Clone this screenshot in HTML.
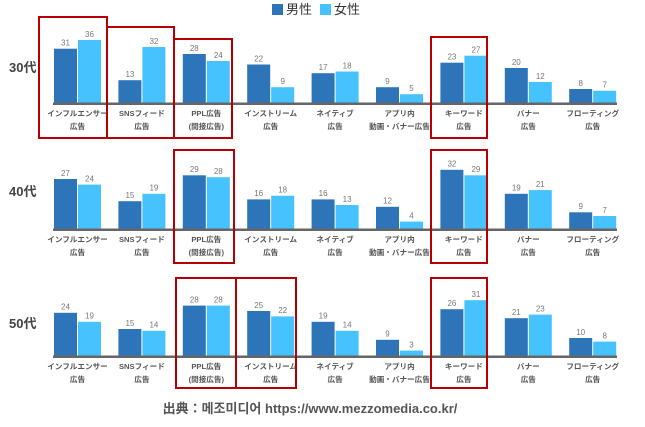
<!DOCTYPE html><html><head><meta charset="utf-8"><style>body{margin:0;background:#fff}svg{display:block}text{font-family:"Liberation Sans","Noto Sans CJK JP",sans-serif}.v{font-size:8px;fill:#777;text-anchor:middle}.l{font-size:7.6px;font-weight:bold;fill:#555;text-anchor:middle}.r{font-size:13px;font-weight:bold;fill:#444}.m{fill:#2E74B8}.f{fill:#46C3FF}</style></head><body>
<svg width="645" height="427" viewBox="0 0 645 427">
<rect x="272" y="4" width="11" height="11" class="m"/><text x="286" y="14" font-size="13" fill="#333">男性</text>
<rect x="320" y="4" width="11" height="11" class="f"/><text x="334" y="14" font-size="13" fill="#333">女性</text>

<g transform="translate(0,103)">
<text class="r" x="9" y="-31">30代</text>
<rect class="m" x="54" y="-54.3" width="23" height="54.3"/><rect class="f" x="78" y="-63" width="23" height="63"/>
<rect class="m" x="118.4" y="-22.8" width="23" height="22.8"/><rect class="f" x="142.4" y="-56" width="23" height="56"/>
<rect class="m" x="182.8" y="-49" width="23" height="49"/><rect class="f" x="206.8" y="-42" width="23" height="42"/>
<rect class="m" x="247.2" y="-38.5" width="23" height="38.5"/><rect class="f" x="271.2" y="-15.8" width="23" height="15.8"/>
<rect class="m" x="311.6" y="-29.8" width="23" height="29.8"/><rect class="f" x="335.6" y="-31.5" width="23" height="31.5"/>
<rect class="m" x="376" y="-15.8" width="23" height="15.8"/><rect class="f" x="400" y="-8.8" width="23" height="8.8"/>
<rect class="m" x="440.4" y="-40.3" width="23" height="40.3"/><rect class="f" x="464.4" y="-47.3" width="23" height="47.3"/>
<rect class="m" x="504.8" y="-35" width="23" height="35"/><rect class="f" x="528.8" y="-21" width="23" height="21"/>
<rect class="m" x="569.2" y="-14" width="23" height="14"/><rect class="f" x="593.2" y="-12.3" width="23" height="12.3"/>
<text class="v" x="65.5" y="-57.5">31</text><text class="v" x="89.5" y="-66">36</text>
<text class="v" x="129.9" y="-26">13</text><text class="v" x="153.9" y="-59">32</text>
<text class="v" x="194.3" y="-52">28</text><text class="v" x="218.3" y="-45">24</text>
<text class="v" x="258.7" y="-41.5">22</text><text class="v" x="282.7" y="-19">9</text>
<text class="v" x="323.1" y="-33">17</text><text class="v" x="347.1" y="-34.5">18</text>
<text class="v" x="387.5" y="-19">9</text><text class="v" x="411.5" y="-12">5</text>
<text class="v" x="451.9" y="-43.5">23</text><text class="v" x="475.9" y="-50.5">27</text>
<text class="v" x="516.3" y="-38">20</text><text class="v" x="540.3" y="-24">12</text>
<text class="v" x="580.7" y="-17">8</text><text class="v" x="604.7" y="-15.5">7</text>
<rect x="53" y="-0.5" width="564" height="2.5" fill="#666"/>
<text class="l" x="77.5" y="13">インフルエンサー</text><text class="l" x="77.5" y="26">広告</text>
<text class="l" x="141.9" y="13">SNSフィード</text><text class="l" x="141.9" y="26">広告</text>
<text class="l" x="206.3" y="13">PPL広告</text><text class="l" x="206.3" y="26">(間接広告)</text>
<text class="l" x="270.7" y="13">インストリーム</text><text class="l" x="270.7" y="26">広告</text>
<text class="l" x="335.1" y="13">ネイティブ</text><text class="l" x="335.1" y="26">広告</text>
<text class="l" x="399.5" y="13">アプリ内</text><text class="l" x="399.5" y="26">動画・バナー広告</text>
<text class="l" x="463.9" y="13">キーワード</text><text class="l" x="463.9" y="26">広告</text>
<text class="l" x="528.3" y="13">バナー</text><text class="l" x="528.3" y="26">広告</text>
<text class="l" x="592.7" y="13">フローティング</text><text class="l" x="592.7" y="26">広告</text>
</g>

<g transform="translate(0,229)">
<text class="r" x="9" y="-33">40代</text>
<rect class="m" x="54" y="-50" width="23" height="50"/><rect class="f" x="78" y="-44.4" width="23" height="44.4"/>
<rect class="m" x="118.4" y="-27.8" width="23" height="27.8"/><rect class="f" x="142.4" y="-35.2" width="23" height="35.2"/>
<rect class="m" x="182.8" y="-53.7" width="23" height="53.7"/><rect class="f" x="206.8" y="-51.8" width="23" height="51.8"/>
<rect class="m" x="247.2" y="-29.6" width="23" height="29.6"/><rect class="f" x="271.2" y="-33.3" width="23" height="33.3"/>
<rect class="m" x="311.6" y="-29.6" width="23" height="29.6"/><rect class="f" x="335.6" y="-24" width="23" height="24"/>
<rect class="m" x="376" y="-22.2" width="23" height="22.2"/><rect class="f" x="400" y="-7.4" width="23" height="7.4"/>
<rect class="m" x="440.4" y="-59.2" width="23" height="59.2"/><rect class="f" x="464.4" y="-53.7" width="23" height="53.7"/>
<rect class="m" x="504.8" y="-35.2" width="23" height="35.2"/><rect class="f" x="528.8" y="-38.9" width="23" height="38.9"/>
<rect class="m" x="569.2" y="-16.7" width="23" height="16.7"/><rect class="f" x="593.2" y="-13" width="23" height="13"/>
<text class="v" x="65.5" y="-53">27</text><text class="v" x="89.5" y="-47.5">24</text>
<text class="v" x="129.9" y="-31">15</text><text class="v" x="153.9" y="-38.5">19</text>
<text class="v" x="194.3" y="-57">29</text><text class="v" x="218.3" y="-55">28</text>
<text class="v" x="258.7" y="-33">16</text><text class="v" x="282.7" y="-36.5">18</text>
<text class="v" x="323.1" y="-33">16</text><text class="v" x="347.1" y="-27">13</text>
<text class="v" x="387.5" y="-25.5">12</text><text class="v" x="411.5" y="-10.5">4</text>
<text class="v" x="451.9" y="-62.5">32</text><text class="v" x="475.9" y="-57">29</text>
<text class="v" x="516.3" y="-38.5">19</text><text class="v" x="540.3" y="-42">21</text>
<text class="v" x="580.7" y="-20">9</text><text class="v" x="604.7" y="-16">7</text>
<rect x="53" y="-0.5" width="564" height="2.5" fill="#666"/>
<text class="l" x="77.5" y="13">インフルエンサー</text><text class="l" x="77.5" y="26">広告</text>
<text class="l" x="141.9" y="13">SNSフィード</text><text class="l" x="141.9" y="26">広告</text>
<text class="l" x="206.3" y="13">PPL広告</text><text class="l" x="206.3" y="26">(間接広告)</text>
<text class="l" x="270.7" y="13">インストリーム</text><text class="l" x="270.7" y="26">広告</text>
<text class="l" x="335.1" y="13">ネイティブ</text><text class="l" x="335.1" y="26">広告</text>
<text class="l" x="399.5" y="13">アプリ内</text><text class="l" x="399.5" y="26">動画・バナー広告</text>
<text class="l" x="463.9" y="13">キーワード</text><text class="l" x="463.9" y="26">広告</text>
<text class="l" x="528.3" y="13">バナー</text><text class="l" x="528.3" y="26">広告</text>
<text class="l" x="592.7" y="13">フローティング</text><text class="l" x="592.7" y="26">広告</text>
</g>

<g transform="translate(0,356)">
<text class="r" x="9" y="-28">50代</text>
<rect class="m" x="54" y="-43.2" width="23" height="43.2"/><rect class="f" x="78" y="-34.2" width="23" height="34.2"/>
<rect class="m" x="118.4" y="-27" width="23" height="27"/><rect class="f" x="142.4" y="-25.2" width="23" height="25.2"/>
<rect class="m" x="182.8" y="-50.4" width="23" height="50.4"/><rect class="f" x="206.8" y="-50.4" width="23" height="50.4"/>
<rect class="m" x="247.2" y="-45" width="23" height="45"/><rect class="f" x="271.2" y="-39.6" width="23" height="39.6"/>
<rect class="m" x="311.6" y="-34.2" width="23" height="34.2"/><rect class="f" x="335.6" y="-25.2" width="23" height="25.2"/>
<rect class="m" x="376" y="-16.2" width="23" height="16.2"/><rect class="f" x="400" y="-5.4" width="23" height="5.4"/>
<rect class="m" x="440.4" y="-46.8" width="23" height="46.8"/><rect class="f" x="464.4" y="-55.8" width="23" height="55.8"/>
<rect class="m" x="504.8" y="-37.8" width="23" height="37.8"/><rect class="f" x="528.8" y="-41.4" width="23" height="41.4"/>
<rect class="m" x="569.2" y="-18" width="23" height="18"/><rect class="f" x="593.2" y="-14.4" width="23" height="14.4"/>
<text class="v" x="65.5" y="-46.5">24</text><text class="v" x="89.5" y="-37.5">19</text>
<text class="v" x="129.9" y="-30">15</text><text class="v" x="153.9" y="-28.5">14</text>
<text class="v" x="194.3" y="-53.5">28</text><text class="v" x="218.3" y="-53.5">28</text>
<text class="v" x="258.7" y="-48">25</text><text class="v" x="282.7" y="-43">22</text>
<text class="v" x="323.1" y="-37.5">19</text><text class="v" x="347.1" y="-28.5">14</text>
<text class="v" x="387.5" y="-19.5">9</text><text class="v" x="411.5" y="-8.5">3</text>
<text class="v" x="451.9" y="-50">26</text><text class="v" x="475.9" y="-59">31</text>
<text class="v" x="516.3" y="-41">21</text><text class="v" x="540.3" y="-44.5">23</text>
<text class="v" x="580.7" y="-21">10</text><text class="v" x="604.7" y="-17.5">8</text>
<rect x="53" y="-0.5" width="564" height="2.5" fill="#666"/>
<text class="l" x="77.5" y="13">インフルエンサー</text><text class="l" x="77.5" y="26">広告</text>
<text class="l" x="141.9" y="13">SNSフィード</text><text class="l" x="141.9" y="26">広告</text>
<text class="l" x="206.3" y="13">PPL広告</text><text class="l" x="206.3" y="26">(間接広告)</text>
<text class="l" x="270.7" y="13">インストリーム</text><text class="l" x="270.7" y="26">広告</text>
<text class="l" x="335.1" y="13">ネイティブ</text><text class="l" x="335.1" y="26">広告</text>
<text class="l" x="399.5" y="13">アプリ内</text><text class="l" x="399.5" y="26">動画・バナー広告</text>
<text class="l" x="463.9" y="13">キーワード</text><text class="l" x="463.9" y="26">広告</text>
<text class="l" x="528.3" y="13">バナー</text><text class="l" x="528.3" y="26">広告</text>
<text class="l" x="592.7" y="13">フローティング</text><text class="l" x="592.7" y="26">広告</text>
</g>

<g fill="none" stroke="#B40000" stroke-width="2">
<rect x="39" y="17" width="68" height="121"/>
<rect x="107" y="27" width="67" height="111"/>
<rect x="174" y="39" width="58" height="99"/>
<rect x="431" y="37" width="56" height="101"/>
<rect x="174" y="150" width="60" height="113"/>
<rect x="431" y="150" width="56" height="113"/>
<rect x="176" y="278" width="60" height="110"/>
<rect x="236" y="278" width="60" height="110"/>
<rect x="431" y="278" width="56" height="110"/>
</g>
<text x="310" y="413" text-anchor="middle" font-size="13" font-weight="bold" fill="#555" font-family="'Liberation Sans','Noto Sans CJK KR',sans-serif">出典：메조미디어 https://www.mezzomedia.co.kr/</text>
</svg></body></html>
